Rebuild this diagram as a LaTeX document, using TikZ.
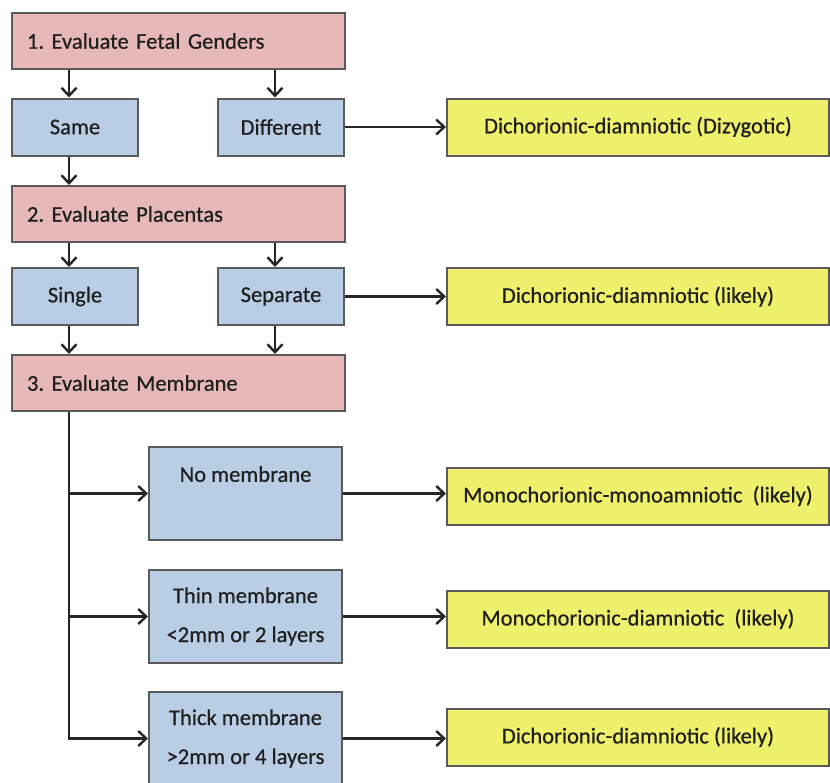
\documentclass[tikz,border=0pt]{standalone}
\usepackage{fontspec}
\setmainfont{Carlito}[FakeBold=0.6]
\usepackage{tikz}
\usetikzlibrary{calc,positioning,arrows.meta}
\frenchspacing

\definecolor{evalpink}{HTML}{E6B9B8}
\definecolor{choiceblue}{HTML}{B9CDE5}
\definecolor{resyellow}{HTML}{EFF06C}
\definecolor{boxline}{HTML}{5A5A5A}

\tikzstyle{box}    = [rectangle, draw=boxline, line width=2pt, text=black!88,
                      font=\fontsize{22.5}{39}\selectfont, inner sep=0pt]
\tikzstyle{eval}   = [box, fill=evalpink, text width=303pt, align=left,
                      inner xsep=15pt, minimum height=56pt]
\tikzstyle{choice} = [box, fill=choiceblue, minimum width=126pt, minimum height=57pt]
\tikzstyle{memb}   = [box, fill=choiceblue, align=center, minimum width=193pt,
                      minimum height=93pt]
\tikzstyle{result} = [box, fill=resyellow, minimum width=382pt, minimum height=57pt]
\tikzstyle{ptr}    = [draw, line width=2.6pt, black!85,
                      -{Straight Barb[length=8pt,width=15pt,line width=2.4pt]}]

\begin{document}
\begin{tikzpicture}[x=1pt, y=-1pt]
		\useasboundingbox[fill=white] (0,0) rectangle (830,782);

		\node[eval] (gender) at (178.5,41) {1. Evaluate Fetal Genders};
		\node[choice] (same) at (75,127) {Same};
		\node[choice, right of=same, node distance=206pt] (diff) {Different};
		\node[result, right of=diff, node distance=357pt] (dzy) {Dichorionic-diamniotic (Dizygotic)};

		\node[eval] (placenta) at (178.5,214) {2. Evaluate Placentas};
		\node[choice] (single) at (75,296.5) {Single};
		\node[choice, right of=single, node distance=206pt] (sep) {Separate};
		\node[result, right of=sep, node distance=357pt] (dcda) {Dichorionic-diamniotic (likely)};

		\node[eval] (membrane) at (178.5,383) {3. Evaluate Membrane};
		\node[memb] (none) at (245.5,493.5) {No membrane\\\mbox{}};
		\node[memb, below of=none, node distance=123pt] (thin) {Thin membrane\\<2mm or 2 layers};
		\node[memb, below of=thin, node distance=122pt] (thick) {Thick membrane\\>2mm or 4 layers};
		\node[result] (mcma) at (638,496) {Monochorionic-monoamniotic~ (likely)};
		\node[result] (mcda) at (638,619) {Monochorionic-diamniotic~ (likely)};
		\node[result] (dcda2) at (638,737) {Dichorionic-diamniotic (likely)};

		% step 1
		\draw[ptr] ($(same.north |- gender.south)+(-6,0)$) -- ($(same.north)+(-6,0)$);
		\draw[ptr] ($(diff.north |- gender.south)+(-6,0)$) -- ($(diff.north)+(-6,0)$);
		\draw[ptr] ($(same.south)+(-6,0)$) -- ($(same.south |- placenta.north)+(-6,0)$);
		\draw[ptr] (diff.east) -- (diff.east -| dzy.west);

		% step 2
		\draw[ptr] ($(single.north |- placenta.south)+(-6,0)$) -- ($(single.north)+(-6,0)$);
		\draw[ptr] ($(sep.north |- placenta.south)+(-6,0)$) -- ($(sep.north)+(-6,0)$);
		\draw[ptr] ($(single.south)+(-6,0)$) -- ($(single.south |- membrane.north)+(-6,0)$);
		\draw[ptr] ($(sep.south)+(-6,0)$) -- ($(sep.south |- membrane.north)+(-6,0)$);
		\draw[ptr] (sep.east) -- (sep.east -| dcda.west);

		% step 3
		\coordinate (trunk) at ($(single.south |- membrane.south)+(-6,0)$);
		\draw[ptr] (trunk) |- (thick.west);
		\draw[ptr] (trunk |- none.west) -- (none.west);
		\draw[ptr] (trunk |- thin.west) -- (thin.west);
		\draw[ptr] (none.east) -- (none.east -| mcma.west);
		\draw[ptr] (thin.east) -- (thin.east -| mcda.west);
		\draw[ptr] (thick.east) -- (thick.east -| dcda2.west);
	\end{tikzpicture}
\end{document}
